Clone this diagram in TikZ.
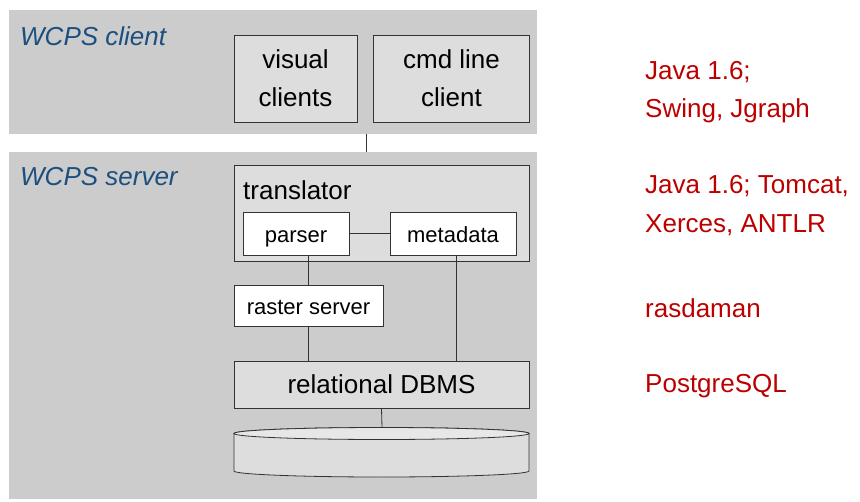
\documentclass[tikz,border=0pt]{standalone}
\usepackage{fontspec}
\setmainfont{Liberation Sans}
\definecolor{panelgray}{HTML}{CCCCCC}
\definecolor{boxgray}{HTML}{DDDDDD}
\definecolor{edgegray}{HTML}{333333}
\definecolor{tierblue}{HTML}{1B4F7F}
\definecolor{techred}{HTML}{BC0000}
\begin{document}
\begin{tikzpicture}[x=1pt,y=-1pt,
  panel/.style={fill=panelgray, draw=none, inner sep=0pt},
  graybox/.style={draw=edgegray, fill=boxgray, line width=0.8pt, inner sep=0pt, align=center},
  whitebox/.style={draw=edgegray, fill=white, line width=0.8pt, inner sep=0pt, align=center},
  link/.style={draw=edgegray, line width=0.8pt},
  big/.style={font=\fontsize{26}{38}\selectfont},
  small/.style={font=\fontsize{22}{26}\selectfont, text height=20pt, text depth=2pt},
  tier/.style={font=\fontsize{26}{30}\selectfont\itshape, text=tierblue, anchor=base west, inner sep=0pt},
  tech/.style={font=\fontsize{26}{30}\selectfont, text=techred, anchor=base west, inner sep=0pt}]
\useasboundingbox (0,0) rectangle (860,501);

% panels
\node[panel, minimum width=528pt, minimum height=124pt] (client) at (273,72) {};
\node[panel, minimum width=528pt, minimum height=347pt] (server) at (273,325.5) {};
\node[tier] (clientlabel) at (20,45) {WCPS client};
\node[tier] (serverlabel) at (20,185) {WCPS server};

% client boxes
\node[graybox, big, minimum width=123pt, minimum height=87pt] (visual) at (295.5,78.5) {visual\\clients};
\node[graybox, big, minimum width=156pt, minimum height=87pt] (cmd) at (451.5,78.5) {cmd line\\client};

% client-server connector
\coordinate (cs) at (366,0);
\draw[link] (client.south -| cs) -- (server.north -| cs);

% translator
\node[graybox, minimum width=295pt, minimum height=96pt] (translator) at (381.5,213) {};
\node[big, anchor=base west, inner sep=0pt] (translabel) at (243,199) {translator};
\node[whitebox, small, minimum width=106pt, minimum height=43pt] (parser) at (296,233.5) {parser};
\node[whitebox, small, minimum width=126pt, minimum height=43pt] (metadata) at (453,233.5) {metadata};
\draw[link] (parser.east) -- (metadata.west);

% raster server and DBMS
\node[whitebox, small, minimum width=149pt, minimum height=41pt] (raster) at (308.5,305.5) {raster server};
\node[graybox, big, minimum width=295pt, minimum height=47pt] (dbms) at (381.5,384.5) {relational DBMS};

\draw[link] (parser.south -| raster.north) -- (raster.north);
\draw[link] (raster.south) -- (raster.south |- dbms.north);
\coordinate (mx) at (456,0);
\draw[link] (metadata.south -| mx) -- (dbms.north -| mx);

% disk
\coordinate (disktop) at (382,427.5);
\draw[edgegray, line width=0.8pt, fill=boxgray]
  (234,433.5) -- (234,471) arc[start angle=180, end angle=360, x radius=147.5pt, y radius=6pt]
  -- (529,433.5) arc[start angle=0, end angle=180, x radius=147.5pt, y radius=6pt] -- cycle;
\draw[edgegray, line width=0.8pt, fill=boxgray!70!white] (381.5,433.5) ellipse[x radius=147.5pt, y radius=6pt];
\draw[link] (dbms.south) -- (disktop);

% technology labels
\node[tech] (t1a) at (645,79) {Java 1.6;};
\node[tech] (t1b) at (645,117) {Swing, Jgraph};
\node[tech] (t2a) at (645,193) {Java 1.6; Tomcat,};
\node[tech] (t2b) at (645,232) {Xerces, ANTLR};
\node[tech] (t3) at (645,317) {rasdaman};
\node[tech] (t4) at (645,392) {PostgreSQL};
\end{tikzpicture}
\end{document}
